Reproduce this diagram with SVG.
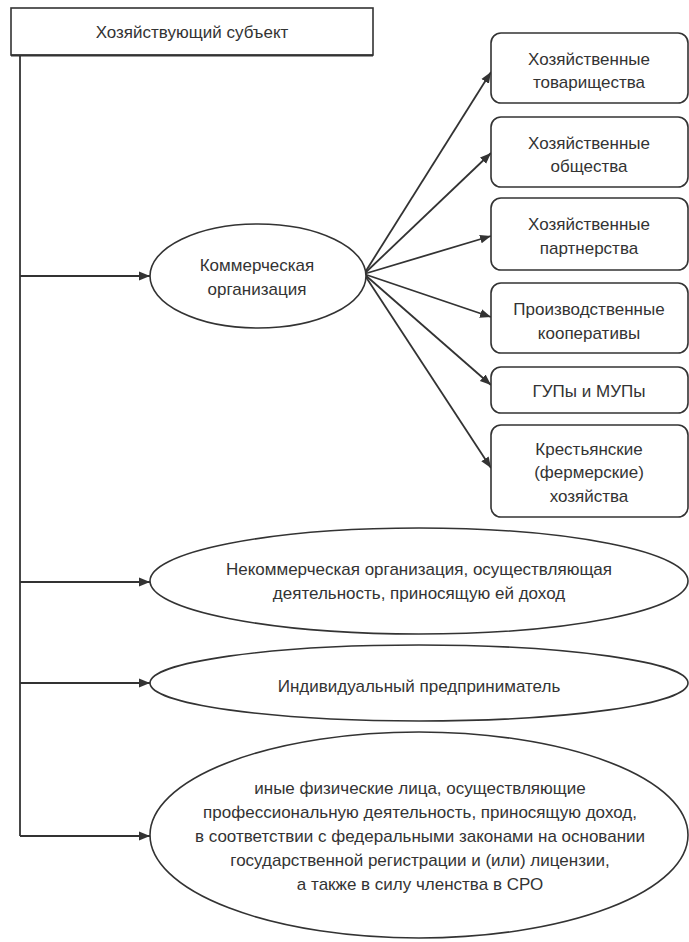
<svg xmlns="http://www.w3.org/2000/svg" width="689" height="942" viewBox="0 0 689 942">
  <defs>
    <marker id="arr" viewBox="0 0 10 10" refX="10" refY="5" markerWidth="11" markerHeight="11" markerUnits="userSpaceOnUse" orient="auto">
      <path d="M0,1 L10,5 L0,9 Z" fill="#333"/>
    </marker>
    <style>
      .shape { fill: #fff; stroke: #333; stroke-width: 1.6; }
      .line { fill: none; stroke: #333; stroke-width: 1.8; }
      .arrow { fill: none; stroke: #333; stroke-width: 1.8; marker-end: url(#arr); }
      text { font-family: "Liberation Sans", Arial, sans-serif; font-size: 17px; fill: #333; text-anchor: middle; }
    </style>
  </defs>
  <rect width="689" height="942" fill="#fff"/>

  <g id="connectors">
    <path class="line" d="M20,55 L20,836"/>
    <path class="arrow" d="M20,276 L150,276"/>
    <path class="arrow" d="M20,582 L150,582"/>
    <path class="arrow" d="M20,683 L150,683"/>
    <path class="arrow" d="M20,836 L150,836"/>
    <path class="arrow" d="M364,274 L491,72"/>
    <path class="arrow" d="M364,274 L491,153"/>
    <path class="arrow" d="M364,274 L491,236"/>
    <path class="arrow" d="M364,274 L491,317"/>
    <path class="arrow" d="M364,274 L491,385"/>
    <path class="arrow" d="M364,274 L491,468"/>
  </g>

  <g id="subject">
    <rect class="shape" x="11" y="8" width="362" height="47"/>
    <path d="M11,55.5 L373,55.5" stroke="#333" stroke-width="2.2"/>
    <text x="192" y="38">Хозяйствующий субъект</text>
  </g>

  <g id="commercial">
    <ellipse class="shape" cx="258" cy="276" rx="108" ry="52"/>
    <text x="257" y="271">Коммерческая</text>
    <text x="257" y="295">организация</text>
  </g>

  <g id="box1">
    <rect class="shape" x="491" y="33" width="197" height="70" rx="10"/>
    <text x="589" y="65">Хозяйственные</text>
    <text x="589" y="88">товарищества</text>
  </g>
  <g id="box2">
    <rect class="shape" x="491" y="117" width="197" height="70" rx="10"/>
    <text x="589" y="149">Хозяйственные</text>
    <text x="589" y="172">общества</text>
  </g>
  <g id="box3">
    <rect class="shape" x="491" y="198" width="197" height="72" rx="10"/>
    <text x="589" y="230">Хозяйственные</text>
    <text x="589" y="254">партнерства</text>
  </g>
  <g id="box4">
    <rect class="shape" x="491" y="283" width="197" height="70" rx="10"/>
    <text x="589" y="315">Производственные</text>
    <text x="589" y="339">кооперативы</text>
  </g>
  <g id="box5">
    <rect class="shape" x="491" y="367" width="197" height="46" rx="10"/>
    <text x="589" y="397">ГУПы и МУПы</text>
  </g>
  <g id="box6">
    <rect class="shape" x="491" y="425" width="197" height="92" rx="10"/>
    <text x="589" y="455">Крестьянские</text>
    <text x="589" y="478">(фермерские)</text>
    <text x="589" y="502">хозяйства</text>
  </g>

  <g id="noncommercial">
    <ellipse class="shape" cx="419" cy="581" rx="269" ry="53"/>
    <text x="419" y="575">Некоммерческая организация, осуществляющая</text>
    <text x="419" y="599">деятельность, приносящую ей доход</text>
  </g>

  <g id="entrepreneur">
    <ellipse class="shape" cx="419" cy="683" rx="269" ry="38"/>
    <text x="419" y="692">Индивидуальный предприниматель</text>
  </g>

  <g id="others">
    <ellipse class="shape" cx="419" cy="835" rx="269" ry="103"/>
    <text x="420" y="794">иные физические лица, осуществляющие</text>
    <text x="420" y="818">профессиональную деятельность, приносящую доход,</text>
    <text x="420" y="842">в соответствии с федеральными законами на основании</text>
    <text x="420" y="866">государственной регистрации и (или) лицензии,</text>
    <text x="420" y="890">а также в силу членства в СРО</text>
  </g>
</svg>
